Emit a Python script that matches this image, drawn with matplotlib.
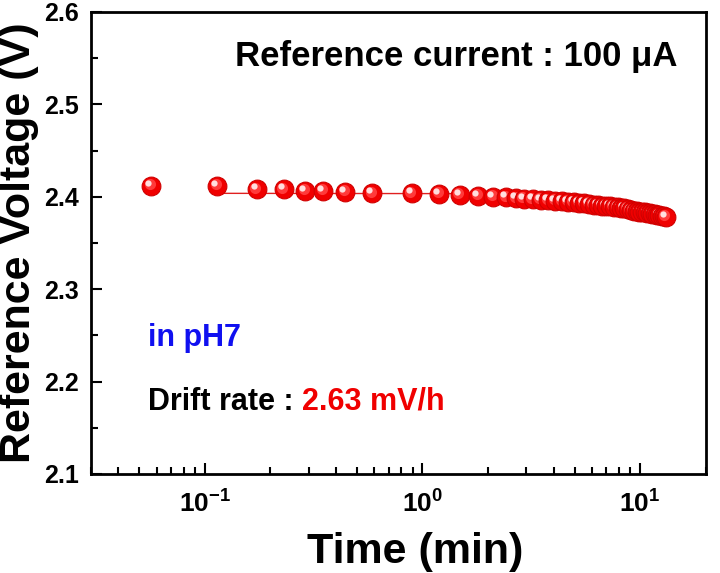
import matplotlib
matplotlib.use("Agg")
import matplotlib.pyplot as plt
import matplotlib.transforms as mtransforms
from matplotlib.ticker import FixedLocator, FixedFormatter, NullFormatter

plt.rcParams['font.family'] = ['Liberation Sans', 'DejaVu Sans']
plt.rcParams['font.weight'] = 'bold'
plt.rcParams['mathtext.fontset'] = 'custom'
plt.rcParams['mathtext.rm'] = 'Liberation Sans:bold'
plt.rcParams['mathtext.bf'] = 'Liberation Sans:bold'
plt.rcParams['mathtext.it'] = 'Liberation Sans:bold'

# ---- data (time in minutes, voltage in V) ----
time_min = [0.0567, 0.114, 0.173, 0.231, 0.289, 0.350, 0.441, 0.588, 0.892,
            1.195, 1.486, 1.803, 2.11, 2.42, 2.69, 2.92, 3.21, 3.50, 3.79,
            4.08, 4.38, 4.67, 4.96, 5.25, 5.54, 5.83, 6.13, 6.42, 6.71, 7.00,
            7.29, 7.58, 7.88, 8.17, 8.46, 8.75, 9.04, 9.33, 9.63, 9.92, 10.21,
            10.50, 10.79, 11.08, 11.38, 11.67, 11.96, 12.25, 12.54, 12.83, 13.13]
voltage = [2.412, 2.412, 2.408, 2.408, 2.4065, 2.4065, 2.4055, 2.404, 2.404,
           2.4035, 2.402, 2.401, 2.400, 2.3994, 2.3986, 2.398, 2.3975, 2.397,
           2.3964, 2.3958, 2.3952, 2.3946, 2.394, 2.3934, 2.3928, 2.3922,
           2.3916, 2.391, 2.3905, 2.390, 2.3895, 2.389, 2.3885, 2.388, 2.3875,
           2.387, 2.3855, 2.385, 2.3845, 2.384, 2.3835, 2.383, 2.3825, 2.382,
           2.3815, 2.381, 2.3805, 2.380, 2.3795, 2.379, 2.3785]
fit_time = [0.114, 2.4]
fit_voltage = [2.4037, 2.4033]

y_ticks = [2.1, 2.2, 2.3, 2.4, 2.5, 2.6]
y_ticklabels = ['2.1', '2.2', '2.3', '2.4', '2.5', '2.6']
x_ticks = [0.1, 1, 10]
x_ticklabels = [r'$\mathbf{10^{-1}}$', r'$\mathbf{10^{0}}$', r'$\mathbf{10^{1}}$']

fig = plt.figure(figsize=(7.2, 5.73), dpi=100)
ax = fig.add_axes([0.1264, 0.1728, 0.8537, 0.8064])
ax.set_xscale('log')
ax.set_xlim(0.03, 20)
ax.set_ylim(2.1, 2.6)

# fit line
ax.plot(fit_time, fit_voltage, color='#e02020', lw=1.0, zorder=2)

# shaded spheres
off1 = mtransforms.offset_copy(ax.transData, fig=fig, x=-1.5, y=1.5, units='dots')
off2 = mtransforms.offset_copy(ax.transData, fig=fig, x=-3.0, y=3.0, units='dots')
for i, (t, v) in enumerate(zip(time_min, voltage)):
    z = 3 + i * 0.01
    ax.plot([t], [v], 'o', ms=13.5, mfc='#f00000', mec='#d00000', mew=0.8, zorder=z)
    ax.plot([t], [v], 'o', ms=8, mfc='#ff3a3a', mec='none', transform=off1, zorder=z + 0.002)
    ax.plot([t], [v], 'o', ms=4.5, mfc='#ffdede', mec='none', transform=off2, zorder=z + 0.004)

# ticks
ax.yaxis.set_major_locator(FixedLocator(y_ticks))
ax.yaxis.set_major_formatter(FixedFormatter(y_ticklabels))
ax.yaxis.set_minor_locator(FixedLocator([2.15, 2.25, 2.35, 2.45, 2.55]))
ax.xaxis.set_major_locator(FixedLocator(x_ticks))
ax.xaxis.set_major_formatter(FixedFormatter(x_ticklabels))
minors = [m * d for d in (0.01, 0.1, 1, 10) for m in range(2, 10)]
ax.xaxis.set_minor_locator(FixedLocator(minors))
ax.xaxis.set_minor_formatter(NullFormatter())

ax.tick_params(which='both', direction='in', top=False, right=False, width=1.5)
ax.tick_params(which='major', length=8)
ax.tick_params(axis='y', which='major', labelsize=18, pad=9)
ax.tick_params(axis='x', which='major', labelsize=19, pad=12)
ax.tick_params(which='minor', length=5)
for s in ax.spines.values():
    s.set_linewidth(2.0)

ax.set_xlabel('Time (min)', fontsize=31, fontweight='bold', labelpad=10)
ax.xaxis.set_label_coords(0.528, -0.125)
ax.xaxis.label.set_va('top')
ax.set_ylabel('Reference Voltage (V)', fontsize=31, fontweight='bold', labelpad=3)

ax.text(0.234, 0.883, 'Reference current : 100 \u03bcA', transform=ax.transAxes,
        fontsize=25, fontweight='bold', color='black', va='baseline', ha='left')
ax.text(0.093, 0.277, 'in pH7', transform=ax.transAxes,
        fontsize=22, fontweight='bold', color='#1010f0', va='baseline', ha='left')
t1 = ax.text(0.093, 0.1385, 'Drift rate :', transform=ax.transAxes,
             fontsize=22, fontweight='bold', color='black', va='baseline', ha='left')
ax.annotate('2.63 mV/h', xy=(1, 0), xycoords=t1, xytext=(6, 0),
            textcoords='offset points', fontsize=22, fontweight='bold',
            color='#f00000', va='bottom', ha='left')

fig.savefig('out.png', dpi=100)
